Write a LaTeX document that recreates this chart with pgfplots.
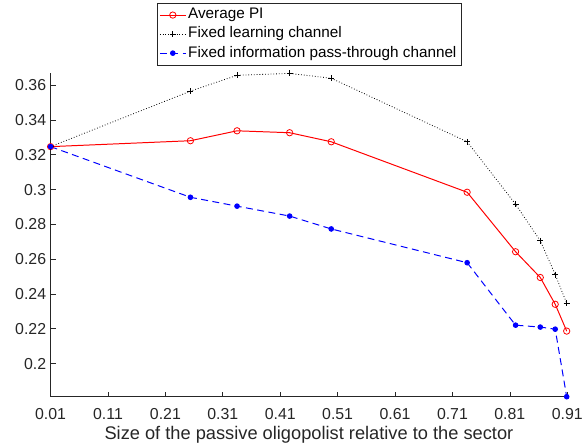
\documentclass[border=0pt]{standalone}
\usepackage{fontspec}
\setmainfont{Liberation Sans}
\usepackage{pgfplots}
\pgfplotsset{compat=1.18}
\definecolor{axgray}{rgb}{0.15,0.15,0.15}
\begin{document}
\begin{tikzpicture}
\begin{axis}[
  scale only axis,
  width=521pt, height=326pt,
  xmin=0.01, xmax=0.91,
  ymin=0.181, ymax=0.3668,
  axis x line=bottom, axis y line=left,
  axis line style={axgray, -, line width=0.7pt},
  tick align=inside,
  major tick length=5pt,
  tick style={axgray, line width=0.7pt},
  xtick={0.01,0.11,0.21,0.31,0.41,0.51,0.61,0.71,0.81,0.91},
  xticklabels={0.01,0.11,0.21,0.31,0.41,0.51,0.61,0.71,0.81,0.91},
  ytick={0.2,0.22,0.24,0.26,0.28,0.3,0.32,0.34,0.36},
  yticklabels={0.2,0.22,0.24,0.26,0.28,0.3,0.32,0.34,0.36},
  ticklabel style={font=\fontsize{16}{19}\selectfont, text=axgray},
  xticklabel style={yshift=-8pt},
  yticklabel style={xshift=-1pt},
  xlabel={Size of the passive oligopolist relative to the sector},
  xlabel style={font=\fontsize{18.4}{21}\selectfont, text=axgray,
    at={(axis description cs:0.5,0)}, anchor=base, yshift=-43pt},
  legend cell align=left,
  legend style={at={(0.5,1)}, anchor=south, yshift=8pt, draw=axgray, line width=0.6pt,
    font=\fontsize{15.4}{18}\selectfont, inner sep=2.5pt, row sep=0pt,
    nodes={inner sep=2pt, text height=11.5pt, text depth=3.7pt}},
  legend image code/.code={\draw[mark repeat=2, mark phase=2, #1] plot coordinates {(0pt,0pt) (13pt,0pt) (26pt,0pt)};},
  clip=false,
]
\addplot[red, line width=1pt, mark=o, mark size=3.2pt, mark options={solid, line width=0.8pt}] coordinates {
(0.01,0.3247) (0.2536,0.3281) (0.3348,0.3338) (0.4264,0.3327) (0.4989,0.3275)
(0.7356,0.2985) (0.82,0.2643) (0.863,0.2495) (0.889,0.2341) (0.909,0.2187)};
\addlegendentry{Average PI}
\addplot[black, line width=0.8pt, dash pattern=on 0.8pt off 2pt, mark=+, mark size=3pt, mark options={solid, line width=0.9pt}] coordinates {
(0.01,0.3247) (0.2536,0.3566) (0.3348,0.3657) (0.4264,0.3668) (0.4989,0.364)
(0.7356,0.3275) (0.82,0.2916) (0.863,0.2706) (0.889,0.2512) (0.909,0.2347)};
\addlegendentry{Fixed learning channel}
\addplot[blue, line width=1pt, dash pattern=on 7pt off 4.5pt, mark=*, mark size=2.3pt, mark options={solid}] coordinates {
(0.01,0.3247) (0.2536,0.2956) (0.3348,0.2905) (0.4264,0.2848) (0.4989,0.2774)
(0.7356,0.258) (0.82,0.2221) (0.863,0.221) (0.889,0.2198) (0.909,0.181)};
\addlegendentry{Fixed information pass-through channel}
\end{axis}
\path (current axis.south west) ++(-51pt,-48pt) coordinate (bbA);
\path (current axis.north east) ++(14pt,74pt) coordinate (bbB);
\path (bbA) (bbB);
\end{tikzpicture}
\end{document}
